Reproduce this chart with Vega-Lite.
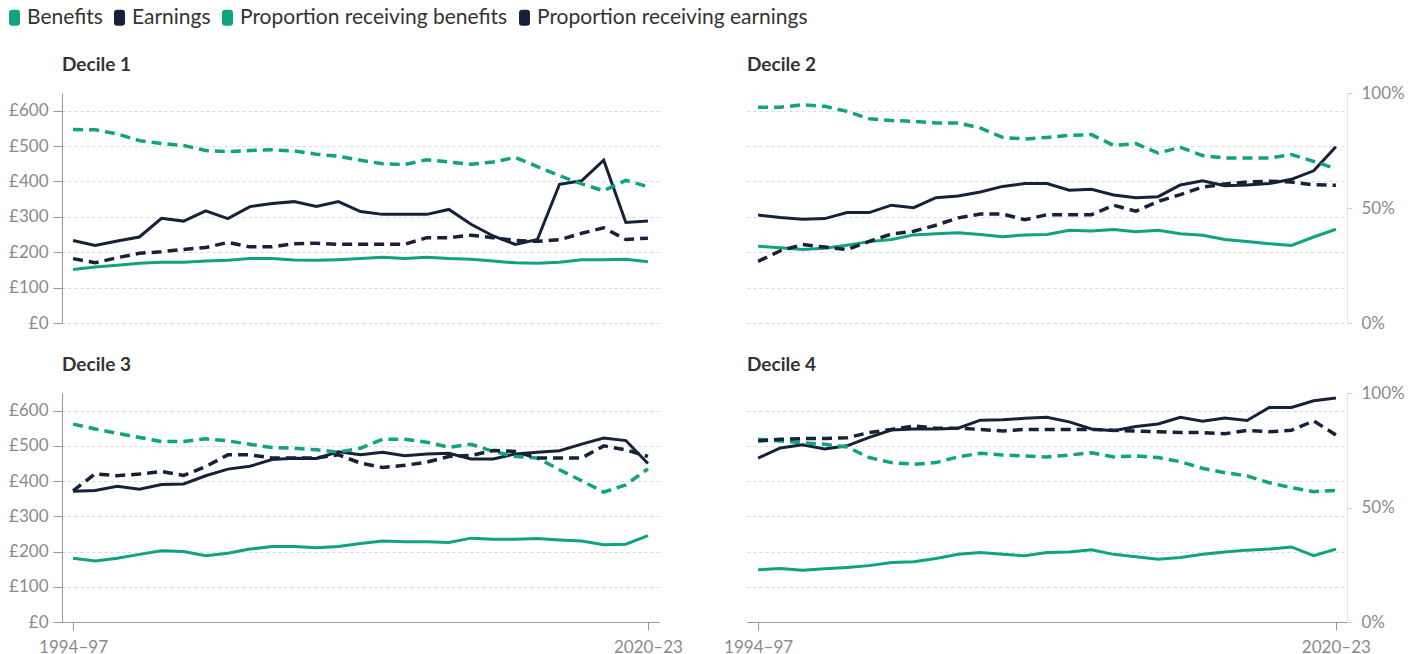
{
  "$schema": "https://vega.github.io/schema/vega-lite/v6.json",
  "background": "white",
  "padding": {"left": 4, "top": 7, "right": 0, "bottom": 0},
  "config": {
    "view": {"stroke": null},
    "font": "Lato",
    "title": {"anchor": "start", "frame": "group", "fontSize": 19, "fontWeight": 700, "color": "#333333"},
    "axis": {"labelFont": "Lato", "labelFontSize": 17, "labelColor": "#8a8a8a", "title": null, "gridColor": "#d9d9d9", "gridDash": [3, 3], "domainColor": "#999999", "tickColor": "#999999"},
    "legend": {"orient": "none", "legendX": -58, "legendY": -86, "direction": "horizontal", "title": null, "labelFont": "Lato", "labelFontSize": 21, "labelColor": "#333333", "labelLimit": 2000, "symbolType": "M-0.293,-0.667 L0.293,-0.667 Q0.333,-0.667 0.333,-0.627 L0.333,0.627 Q0.333,0.667 0.293,0.667 L-0.293,0.667 Q-0.333,0.667 -0.333,0.627 L-0.333,-0.627 Q-0.333,-0.667 -0.293,-0.667 Z", "symbolSize": 225, "symbolStrokeWidth": 6, "symbolDash": [], "labelOffset": 2, "columnPadding": 2, "padding": 0}
  },
  "datasets": {
    "rows": [
      {"decile":1,"period":"1994–97","Benefits":151,"Earnings":233,"Proportion receiving benefits":84.1,"Proportion receiving earnings":28.0},
      {"decile":1,"period":"1995–98","Benefits":158,"Earnings":219,"Proportion receiving benefits":84.0,"Proportion receiving earnings":26.2},
      {"decile":1,"period":"1996–99","Benefits":163,"Earnings":232,"Proportion receiving benefits":82.2,"Proportion receiving earnings":28.4},
      {"decile":1,"period":"1997–00","Benefits":169,"Earnings":243,"Proportion receiving benefits":79.3,"Proportion receiving earnings":30.3},
      {"decile":1,"period":"1998–01","Benefits":172,"Earnings":296,"Proportion receiving benefits":78.0,"Proportion receiving earnings":31.0},
      {"decile":1,"period":"1999–02","Benefits":172,"Earnings":288,"Proportion receiving benefits":77.2,"Proportion receiving earnings":32.0},
      {"decile":1,"period":"2000–03","Benefits":175,"Earnings":317,"Proportion receiving benefits":75.0,"Proportion receiving earnings":32.8},
      {"decile":1,"period":"2001–04","Benefits":177,"Earnings":295,"Proportion receiving benefits":74.5,"Proportion receiving earnings":35.0},
      {"decile":1,"period":"2002–05","Benefits":182,"Earnings":329,"Proportion receiving benefits":75.0,"Proportion receiving earnings":33.1},
      {"decile":1,"period":"2003–06","Benefits":182,"Earnings":338,"Proportion receiving benefits":75.3,"Proportion receiving earnings":33.1},
      {"decile":1,"period":"2004–07","Benefits":178,"Earnings":343,"Proportion receiving benefits":74.8,"Proportion receiving earnings":34.5},
      {"decile":1,"period":"2005–08","Benefits":177,"Earnings":329,"Proportion receiving benefits":73.4,"Proportion receiving earnings":34.7},
      {"decile":1,"period":"2006–09","Benefits":179,"Earnings":343,"Proportion receiving benefits":72.5,"Proportion receiving earnings":34.2},
      {"decile":1,"period":"2007–10","Benefits":182,"Earnings":315,"Proportion receiving benefits":70.8,"Proportion receiving earnings":34.2},
      {"decile":1,"period":"2008–11","Benefits":186,"Earnings":307,"Proportion receiving benefits":69.2,"Proportion receiving earnings":34.2},
      {"decile":1,"period":"2009–12","Benefits":182,"Earnings":307,"Proportion receiving benefits":68.9,"Proportion receiving earnings":34.2},
      {"decile":1,"period":"2010–13","Benefits":186,"Earnings":307,"Proportion receiving benefits":71.0,"Proportion receiving earnings":37.1},
      {"decile":1,"period":"2011–14","Benefits":182,"Earnings":321,"Proportion receiving benefits":70.0,"Proportion receiving earnings":37.1},
      {"decile":1,"period":"2012–15","Benefits":180,"Earnings":279,"Proportion receiving benefits":69.0,"Proportion receiving earnings":38.2},
      {"decile":1,"period":"2013–16","Benefits":175,"Earnings":246,"Proportion receiving benefits":70.0,"Proportion receiving earnings":37.1},
      {"decile":1,"period":"2014–17","Benefits":170,"Earnings":222,"Proportion receiving benefits":72.0,"Proportion receiving earnings":35.9},
      {"decile":1,"period":"2015–18","Benefits":169,"Earnings":236,"Proportion receiving benefits":68.0,"Proportion receiving earnings":35.5},
      {"decile":1,"period":"2016–19","Benefits":172,"Earnings":392,"Proportion receiving benefits":64.0,"Proportion receiving earnings":36.2},
      {"decile":1,"period":"2017–20","Benefits":179,"Earnings":402,"Proportion receiving benefits":60.5,"Proportion receiving earnings":39.0},
      {"decile":1,"period":"2018–21","Benefits":179,"Earnings":460,"Proportion receiving benefits":57.5,"Proportion receiving earnings":41.4},
      {"decile":1,"period":"2019–22","Benefits":180,"Earnings":284,"Proportion receiving benefits":62.0,"Proportion receiving earnings":36.3},
      {"decile":1,"period":"2020–23","Benefits":173,"Earnings":288,"Proportion receiving benefits":59.3,"Proportion receiving earnings":36.9},
      {"decile":2,"period":"1994–97","Benefits":217,"Earnings":305,"Proportion receiving benefits":93.8,"Proportion receiving earnings":26.8},
      {"decile":2,"period":"1995–98","Benefits":213,"Earnings":298,"Proportion receiving benefits":93.8,"Proportion receiving earnings":31.4},
      {"decile":2,"period":"1996–99","Benefits":208,"Earnings":293,"Proportion receiving benefits":94.9,"Proportion receiving earnings":34.1},
      {"decile":2,"period":"1997–00","Benefits":211,"Earnings":295,"Proportion receiving benefits":94.2,"Proportion receiving earnings":33.0},
      {"decile":2,"period":"1998–01","Benefits":220,"Earnings":312,"Proportion receiving benefits":92.0,"Proportion receiving earnings":31.9},
      {"decile":2,"period":"1999–02","Benefits":230,"Earnings":312,"Proportion receiving benefits":88.8,"Proportion receiving earnings":35.5},
      {"decile":2,"period":"2000–03","Benefits":236,"Earnings":333,"Proportion receiving benefits":88.0,"Proportion receiving earnings":38.7},
      {"decile":2,"period":"2001–04","Benefits":249,"Earnings":326,"Proportion receiving benefits":87.7,"Proportion receiving earnings":39.9},
      {"decile":2,"period":"2002–05","Benefits":252,"Earnings":354,"Proportion receiving benefits":87.0,"Proportion receiving earnings":42.5},
      {"decile":2,"period":"2003–06","Benefits":255,"Earnings":359,"Proportion receiving benefits":87.0,"Proportion receiving earnings":45.7},
      {"decile":2,"period":"2004–07","Benefits":250,"Earnings":370,"Proportion receiving benefits":84.8,"Proportion receiving earnings":47.4},
      {"decile":2,"period":"2005–08","Benefits":244,"Earnings":386,"Proportion receiving benefits":80.7,"Proportion receiving earnings":47.4},
      {"decile":2,"period":"2006–09","Benefits":249,"Earnings":394,"Proportion receiving benefits":80.0,"Proportion receiving earnings":44.9},
      {"decile":2,"period":"2007–10","Benefits":250,"Earnings":394,"Proportion receiving benefits":80.7,"Proportion receiving earnings":47.1},
      {"decile":2,"period":"2008–11","Benefits":262,"Earnings":375,"Proportion receiving benefits":81.6,"Proportion receiving earnings":47.1},
      {"decile":2,"period":"2009–12","Benefits":260,"Earnings":378,"Proportion receiving benefits":81.9,"Proportion receiving earnings":47.1},
      {"decile":2,"period":"2010–13","Benefits":264,"Earnings":362,"Proportion receiving benefits":77.2,"Proportion receiving earnings":51.2},
      {"decile":2,"period":"2011–14","Benefits":258,"Earnings":354,"Proportion receiving benefits":78.0,"Proportion receiving earnings":48.6},
      {"decile":2,"period":"2012–15","Benefits":262,"Earnings":357,"Proportion receiving benefits":73.9,"Proportion receiving earnings":52.9},
      {"decile":2,"period":"2013–16","Benefits":252,"Earnings":390,"Proportion receiving benefits":76.4,"Proportion receiving earnings":55.8},
      {"decile":2,"period":"2014–17","Benefits":248,"Earnings":402,"Proportion receiving benefits":72.8,"Proportion receiving earnings":59.1},
      {"decile":2,"period":"2015–18","Benefits":236,"Earnings":388,"Proportion receiving benefits":71.7,"Proportion receiving earnings":60.4},
      {"decile":2,"period":"2016–19","Benefits":230,"Earnings":390,"Proportion receiving benefits":71.7,"Proportion receiving earnings":61.3},
      {"decile":2,"period":"2017–20","Benefits":224,"Earnings":394,"Proportion receiving benefits":71.7,"Proportion receiving earnings":61.6},
      {"decile":2,"period":"2018–21","Benefits":219,"Earnings":406,"Proportion receiving benefits":73.2,"Proportion receiving earnings":61.3},
      {"decile":2,"period":"2019–22","Benefits":243,"Earnings":430,"Proportion receiving benefits":70.3,"Proportion receiving earnings":60.1},
      {"decile":2,"period":"2020–23","Benefits":265,"Earnings":498,"Proportion receiving benefits":67.1,"Proportion receiving earnings":59.9},
      {"decile":3,"period":"1994–97","Benefits":181,"Earnings":371,"Proportion receiving benefits":86.4,"Proportion receiving earnings":57.3},
      {"decile":3,"period":"1995–98","Benefits":173,"Earnings":373,"Proportion receiving benefits":84.3,"Proportion receiving earnings":64.7},
      {"decile":3,"period":"1996–99","Benefits":181,"Earnings":385,"Proportion receiving benefits":82.4,"Proportion receiving earnings":63.9},
      {"decile":3,"period":"1997–00","Benefits":192,"Earnings":377,"Proportion receiving benefits":80.6,"Proportion receiving earnings":64.6},
      {"decile":3,"period":"1998–01","Benefits":202,"Earnings":390,"Proportion receiving benefits":78.8,"Proportion receiving earnings":65.7},
      {"decile":3,"period":"1999–02","Benefits":200,"Earnings":392,"Proportion receiving benefits":78.8,"Proportion receiving earnings":64.0},
      {"decile":3,"period":"2000–03","Benefits":188,"Earnings":415,"Proportion receiving benefits":80.0,"Proportion receiving earnings":67.9},
      {"decile":3,"period":"2001–04","Benefits":195,"Earnings":434,"Proportion receiving benefits":79.1,"Proportion receiving earnings":73.0},
      {"decile":3,"period":"2002–05","Benefits":207,"Earnings":442,"Proportion receiving benefits":77.6,"Proportion receiving earnings":73.0},
      {"decile":3,"period":"2003–06","Benefits":214,"Earnings":461,"Proportion receiving benefits":76.2,"Proportion receiving earnings":71.6},
      {"decile":3,"period":"2004–07","Benefits":214,"Earnings":465,"Proportion receiving benefits":75.9,"Proportion receiving earnings":71.6},
      {"decile":3,"period":"2005–08","Benefits":211,"Earnings":464,"Proportion receiving benefits":75.2,"Proportion receiving earnings":71.6},
      {"decile":3,"period":"2006–09","Benefits":214,"Earnings":483,"Proportion receiving benefits":74.2,"Proportion receiving earnings":73.0},
      {"decile":3,"period":"2007–10","Benefits":223,"Earnings":475,"Proportion receiving benefits":75.9,"Proportion receiving earnings":69.4},
      {"decile":3,"period":"2008–11","Benefits":230,"Earnings":482,"Proportion receiving benefits":79.8,"Proportion receiving earnings":67.5},
      {"decile":3,"period":"2009–12","Benefits":228,"Earnings":472,"Proportion receiving benefits":79.8,"Proportion receiving earnings":68.4},
      {"decile":3,"period":"2010–13","Benefits":228,"Earnings":477,"Proportion receiving benefits":78.5,"Proportion receiving earnings":69.8},
      {"decile":3,"period":"2011–14","Benefits":226,"Earnings":479,"Proportion receiving benefits":76.3,"Proportion receiving earnings":72.3},
      {"decile":3,"period":"2012–15","Benefits":238,"Earnings":463,"Proportion receiving benefits":77.6,"Proportion receiving earnings":72.7},
      {"decile":3,"period":"2013–16","Benefits":235,"Earnings":463,"Proportion receiving benefits":74.5,"Proportion receiving earnings":74.9},
      {"decile":3,"period":"2014–17","Benefits":235,"Earnings":477,"Proportion receiving benefits":72.3,"Proportion receiving earnings":74.5},
      {"decile":3,"period":"2015–18","Benefits":237,"Earnings":482,"Proportion receiving benefits":71.6,"Proportion receiving earnings":71.6},
      {"decile":3,"period":"2016–19","Benefits":233,"Earnings":486,"Proportion receiving benefits":66.5,"Proportion receiving earnings":71.6},
      {"decile":3,"period":"2017–20","Benefits":230,"Earnings":505,"Proportion receiving benefits":61.7,"Proportion receiving earnings":71.6},
      {"decile":3,"period":"2018–21","Benefits":219,"Earnings":522,"Proportion receiving benefits":56.7,"Proportion receiving earnings":76.9},
      {"decile":3,"period":"2019–22","Benefits":221,"Earnings":515,"Proportion receiving benefits":59.9,"Proportion receiving earnings":75.2},
      {"decile":3,"period":"2020–23","Benefits":245,"Earnings":450,"Proportion receiving benefits":66.9,"Proportion receiving earnings":72.3},
      {"decile":4,"period":"1994–97","Benefits":148,"Earnings":465,"Proportion receiving benefits":79.8,"Proportion receiving earnings":79.0},
      {"decile":4,"period":"1995–98","Benefits":152,"Earnings":494,"Proportion receiving benefits":79.0,"Proportion receiving earnings":79.8},
      {"decile":4,"period":"1996–99","Benefits":147,"Earnings":503,"Proportion receiving benefits":78.3,"Proportion receiving earnings":80.1},
      {"decile":4,"period":"1997–00","Benefits":151,"Earnings":491,"Proportion receiving benefits":77.6,"Proportion receiving earnings":80.1},
      {"decile":4,"period":"1998–01","Benefits":155,"Earnings":500,"Proportion receiving benefits":76.4,"Proportion receiving earnings":80.5},
      {"decile":4,"period":"1999–02","Benefits":160,"Earnings":524,"Proportion receiving benefits":71.8,"Proportion receiving earnings":82.7},
      {"decile":4,"period":"2000–03","Benefits":169,"Earnings":545,"Proportion receiving benefits":69.6,"Proportion receiving earnings":84.1},
      {"decile":4,"period":"2001–04","Benefits":171,"Earnings":548,"Proportion receiving benefits":68.9,"Proportion receiving earnings":85.6},
      {"decile":4,"period":"2002–05","Benefits":180,"Earnings":548,"Proportion receiving benefits":69.6,"Proportion receiving earnings":84.6},
      {"decile":4,"period":"2003–06","Benefits":192,"Earnings":550,"Proportion receiving benefits":72.1,"Proportion receiving earnings":84.6},
      {"decile":4,"period":"2004–07","Benefits":197,"Earnings":573,"Proportion receiving benefits":73.7,"Proportion receiving earnings":84.1},
      {"decile":4,"period":"2005–08","Benefits":192,"Earnings":574,"Proportion receiving benefits":72.9,"Proportion receiving earnings":83.4},
      {"decile":4,"period":"2006–09","Benefits":188,"Earnings":578,"Proportion receiving benefits":72.5,"Proportion receiving earnings":84.1},
      {"decile":4,"period":"2007–10","Benefits":197,"Earnings":581,"Proportion receiving benefits":72.1,"Proportion receiving earnings":84.1},
      {"decile":4,"period":"2008–11","Benefits":199,"Earnings":568,"Proportion receiving benefits":72.9,"Proportion receiving earnings":84.1},
      {"decile":4,"period":"2009–12","Benefits":205,"Earnings":548,"Proportion receiving benefits":73.9,"Proportion receiving earnings":84.1},
      {"decile":4,"period":"2010–13","Benefits":192,"Earnings":543,"Proportion receiving benefits":72.1,"Proportion receiving earnings":83.7},
      {"decile":4,"period":"2011–14","Benefits":185,"Earnings":555,"Proportion receiving benefits":72.5,"Proportion receiving earnings":83.4},
      {"decile":4,"period":"2012–15","Benefits":178,"Earnings":562,"Proportion receiving benefits":71.8,"Proportion receiving earnings":83.1},
      {"decile":4,"period":"2013–16","Benefits":183,"Earnings":581,"Proportion receiving benefits":70.0,"Proportion receiving earnings":82.7},
      {"decile":4,"period":"2014–17","Benefits":192,"Earnings":570,"Proportion receiving benefits":67.1,"Proportion receiving earnings":82.7},
      {"decile":4,"period":"2015–18","Benefits":199,"Earnings":579,"Proportion receiving benefits":65.2,"Proportion receiving earnings":82.2},
      {"decile":4,"period":"2016–19","Benefits":204,"Earnings":572,"Proportion receiving benefits":63.8,"Proportion receiving earnings":83.7},
      {"decile":4,"period":"2017–20","Benefits":207,"Earnings":609,"Proportion receiving benefits":60.8,"Proportion receiving earnings":83.1},
      {"decile":4,"period":"2018–21","Benefits":213,"Earnings":609,"Proportion receiving benefits":58.7,"Proportion receiving earnings":83.7},
      {"decile":4,"period":"2019–22","Benefits":188,"Earnings":628,"Proportion receiving benefits":56.9,"Proportion receiving earnings":87.8},
      {"decile":4,"period":"2020–23","Benefits":207,"Earnings":636,"Proportion receiving benefits":57.5,"Proportion receiving earnings":81.7}
    ]
  },
  "data": {"name": "rows"},
  "transform": [
    {"fold": ["Benefits", "Earnings", "Proportion receiving benefits", "Proportion receiving earnings"], "as": ["series", "value"]}
  ],
  "columns": 2,
  "spacing": {"row": 25, "column": 40},
  "concat": [
    {
      "width": 597, "height": 230,
      "title": {"text": "Decile 1", "offset": 18},
      "transform": [{"filter": "datum.decile == 1"}],
      "encoding": {"x": {"field": "period", "type": "ordinal", "scale": {"type": "point", "padding": 0.5}, "axis": null}},
      "layer": [
        {"transform": [{"filter": "datum.series == 'Benefits' || datum.series == 'Earnings'"}],
         "mark": {"type": "line", "strokeWidth": 3},
         "encoding": {
           "y": {"field": "value", "type": "quantitative", "scale": {"domain": [0, 650], "nice": false}, "axis": {"values": [0, 100, 200, 300, 400, 500, 600], "labelExpr": "'£' + datum.value", "tickSize": 9, "labelPadding": 5, "grid": true}},
           "color": {"field": "series", "type": "nominal", "scale": {"domain": ["Benefits", "Earnings", "Proportion receiving benefits", "Proportion receiving earnings"], "range": ["#10a37f", "#17223a", "#10a37f", "#17223a"]}}
         }},
        {"transform": [{"filter": "datum.series != 'Benefits' && datum.series != 'Earnings'"}],
         "mark": {"type": "line", "strokeWidth": 3.5, "strokeDash": [10, 6]},
         "encoding": {
           "y": {"field": "value", "type": "quantitative", "scale": {"domain": [0, 100], "nice": false}, "axis": null},
           "color": {"field": "series", "type": "nominal"}
         }}
      ],
      "resolve": {"scale": {"y": "independent"}}
    },
    {
      "width": 600, "height": 230,
      "title": {"text": "Decile 2", "offset": 9},
      "transform": [{"filter": "datum.decile == 2"}],
      "encoding": {"x": {"field": "period", "type": "ordinal", "scale": {"type": "point", "padding": 0.5}, "axis": null}},
      "layer": [
        {"transform": [{"filter": "datum.series == 'Benefits' || datum.series == 'Earnings'"}],
         "mark": {"type": "line", "strokeWidth": 3},
         "encoding": {
           "y": {"field": "value", "type": "quantitative", "scale": {"domain": [0, 650], "nice": false}, "axis": {"values": [0, 100, 200, 300, 400, 500, 600], "grid": true, "labels": false, "ticks": false, "domain": false}},
           "color": {"field": "series", "type": "nominal"}
         }},
        {"transform": [{"filter": "datum.series != 'Benefits' && datum.series != 'Earnings'"}],
         "mark": {"type": "line", "strokeWidth": 3.5, "strokeDash": [10, 6]},
         "encoding": {
           "y": {"field": "value", "type": "quantitative", "scale": {"domain": [0, 100], "nice": false}, "axis": {"orient": "right", "values": [0, 50, 100], "labelExpr": "datum.value + '%'", "grid": false, "tickSize": 5, "labelPadding": 9, "domainColor": "#e3e3e3", "tickColor": "#d0d0d0"}},
           "color": {"field": "series", "type": "nominal"}
         }}
      ],
      "resolve": {"scale": {"y": "independent"}}
    },
    {
      "width": 597, "height": 229,
      "title": {"text": "Decile 3", "offset": 18},
      "transform": [{"filter": "datum.decile == 3"}],
      "encoding": {"x": {"field": "period", "type": "ordinal", "scale": {"type": "point", "padding": 0.5}, "axis": {"values": ["1994–97", "2020–23"], "labelAngle": 0, "tickSize": 8, "labelPadding": 9, "grid": false}}},
      "layer": [
        {"transform": [{"filter": "datum.series == 'Benefits' || datum.series == 'Earnings'"}],
         "mark": {"type": "line", "strokeWidth": 3},
         "encoding": {
           "y": {"field": "value", "type": "quantitative", "scale": {"domain": [0, 650], "nice": false}, "axis": {"values": [0, 100, 200, 300, 400, 500, 600], "labelExpr": "'£' + datum.value", "tickSize": 9, "labelPadding": 5, "grid": true}},
           "color": {"field": "series", "type": "nominal"}
         }},
        {"transform": [{"filter": "datum.series != 'Benefits' && datum.series != 'Earnings'"}],
         "mark": {"type": "line", "strokeWidth": 3.5, "strokeDash": [10, 6]},
         "encoding": {
           "y": {"field": "value", "type": "quantitative", "scale": {"domain": [0, 100], "nice": false}, "axis": null},
           "color": {"field": "series", "type": "nominal"}
         }}
      ],
      "resolve": {"scale": {"y": "independent"}}
    },
    {
      "width": 600, "height": 229,
      "title": {"text": "Decile 4", "offset": 9},
      "transform": [{"filter": "datum.decile == 4"}],
      "encoding": {"x": {"field": "period", "type": "ordinal", "scale": {"type": "point", "padding": 0.5}, "axis": {"values": ["1994–97", "2020–23"], "labelAngle": 0, "tickSize": 8, "labelPadding": 9, "grid": false}}},
      "layer": [
        {"transform": [{"filter": "datum.series == 'Benefits' || datum.series == 'Earnings'"}],
         "mark": {"type": "line", "strokeWidth": 3},
         "encoding": {
           "y": {"field": "value", "type": "quantitative", "scale": {"domain": [0, 650], "nice": false}, "axis": {"values": [0, 100, 200, 300, 400, 500, 600], "grid": true, "labels": false, "ticks": false, "domain": false}},
           "color": {"field": "series", "type": "nominal"}
         }},
        {"transform": [{"filter": "datum.series != 'Benefits' && datum.series != 'Earnings'"}],
         "mark": {"type": "line", "strokeWidth": 3.5, "strokeDash": [10, 6]},
         "encoding": {
           "y": {"field": "value", "type": "quantitative", "scale": {"domain": [0, 100], "nice": false}, "axis": {"orient": "right", "values": [0, 50, 100], "labelExpr": "datum.value + '%'", "grid": false, "tickSize": 5, "labelPadding": 9, "domainColor": "#e3e3e3", "tickColor": "#d0d0d0"}},
           "color": {"field": "series", "type": "nominal"}
         }}
      ],
      "resolve": {"scale": {"y": "independent"}}
    }
  ]
}
